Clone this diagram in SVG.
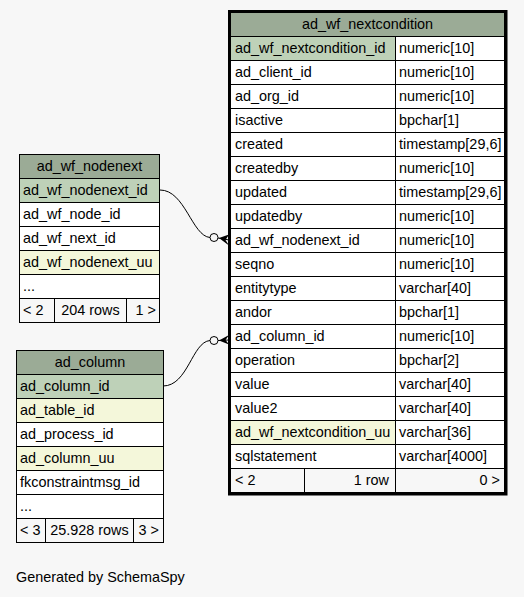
<svg xmlns="http://www.w3.org/2000/svg" width="524" height="597" viewBox="0 0 524 597">
<style>
text{font-family:"Liberation Sans",Arial,sans-serif;font-size:14.4px;fill:#000}
.c{stroke:#000;stroke-width:1}
.h{fill:#9bab96}
.pk{fill:#bed1b8}
.ix{fill:#f4f7da}
.w{fill:#ffffff}
.f{fill:#f7f7f7}
.m{text-anchor:middle}
.e{text-anchor:end}
.edge{fill:none;stroke:#000;stroke-width:1}
</style>
<rect width="524" height="597" fill="#f7f7f7"/>

<g id="connectors">
<path class="edge" d="M160,190 C185,190 192,236 210,237.5"/>
<circle class="edge" cx="214" cy="237.5" r="4"/>
<line class="edge" x1="218" y1="238" x2="229" y2="240"/>
<polygon points="219,238 229,234.5 225.5,240 229,245.5" fill="#000"/>
<path class="edge" d="M163,386 C188,386 192,342 210,340.5"/>
<circle class="edge" cx="214" cy="340.5" r="4"/>
<line class="edge" x1="218" y1="340.5" x2="229" y2="340"/>
<polygon points="219,340.5 229,335 225.5,340 229,344.5" fill="#000"/>
</g>

<g id="ad_wf_nodenext">
<rect class="c h" x="19.5" y="154.5" width="140" height="24"/>
<text class="m" x="89.5" y="171">ad_wf_nodenext</text>
<rect class="c pk" x="19.5" y="178.5" width="140" height="24"/>
<text x="23" y="195">ad_wf_nodenext_id</text>
<rect class="c w" x="19.5" y="202.5" width="140" height="24"/>
<text x="23" y="219">ad_wf_node_id</text>
<rect class="c w" x="19.5" y="226.5" width="140" height="24"/>
<text x="23" y="243">ad_wf_next_id</text>
<rect class="c ix" x="19.5" y="250.5" width="140" height="24"/>
<text x="23" y="267">ad_wf_nodenext_uu</text>
<rect class="c w" x="19.5" y="274.5" width="140" height="24"/>
<text x="23" y="291">...</text>
<rect class="c f" x="19.5" y="298.5" width="35" height="24"/>
<rect class="c f" x="54.5" y="298.5" width="72" height="24"/>
<rect class="c f" x="126.5" y="298.5" width="33" height="24"/>
<text x="23" y="315">&lt; 2</text>
<text class="m" x="90.5" y="315">204 rows</text>
<text class="e" x="156" y="315">1 &gt;</text>
</g>

<g id="ad_column">
<rect class="c h" x="16.5" y="350.5" width="147" height="24"/>
<text class="m" x="90" y="367">ad_column</text>
<rect class="c pk" x="16.5" y="374.5" width="147" height="24"/>
<text x="20" y="391">ad_column_id</text>
<rect class="c ix" x="16.5" y="398.5" width="147" height="24"/>
<text x="20" y="415">ad_table_id</text>
<rect class="c w" x="16.5" y="422.5" width="147" height="24"/>
<text x="20" y="439">ad_process_id</text>
<rect class="c ix" x="16.5" y="446.5" width="147" height="24"/>
<text x="20" y="463">ad_column_uu</text>
<rect class="c w" x="16.5" y="470.5" width="147" height="24"/>
<text x="20" y="487">fkconstraintmsg_id</text>
<rect class="c w" x="16.5" y="494.5" width="147" height="24"/>
<text x="20" y="511">...</text>
<rect class="c f" x="16.5" y="518.5" width="29" height="24"/>
<rect class="c f" x="45.5" y="518.5" width="88" height="24"/>
<rect class="c f" x="133.5" y="518.5" width="30" height="24"/>
<text x="20" y="535">&lt; 3</text>
<text class="m" x="89.5" y="535">25.928 rows</text>
<text class="e" x="159" y="535">3 &gt;</text>
</g>

<g id="ad_wf_nextcondition">
<rect class="c h" x="230.5" y="12.5" width="274" height="24"/>
<text class="m" x="367.5" y="29">ad_wf_nextcondition</text>

<rect class="c pk" x="230.5" y="36.5" width="165" height="24"/>
<rect class="c w" x="395.5" y="36.5" width="109" height="24"/>
<text x="235" y="53">ad_wf_nextcondition_id</text><text x="399" y="53">numeric[10]</text>

<rect class="c w" x="230.5" y="60.5" width="165" height="24"/>
<rect class="c w" x="395.5" y="60.5" width="109" height="24"/>
<text x="235" y="77">ad_client_id</text><text x="399" y="77">numeric[10]</text>

<rect class="c w" x="230.5" y="84.5" width="165" height="24"/>
<rect class="c w" x="395.5" y="84.5" width="109" height="24"/>
<text x="235" y="101">ad_org_id</text><text x="399" y="101">numeric[10]</text>

<rect class="c w" x="230.5" y="108.5" width="165" height="24"/>
<rect class="c w" x="395.5" y="108.5" width="109" height="24"/>
<text x="235" y="125">isactive</text><text x="399" y="125">bpchar[1]</text>

<rect class="c w" x="230.5" y="132.5" width="165" height="24"/>
<rect class="c w" x="395.5" y="132.5" width="109" height="24"/>
<text x="235" y="149">created</text><text x="399" y="149">timestamp[29,6]</text>

<rect class="c w" x="230.5" y="156.5" width="165" height="24"/>
<rect class="c w" x="395.5" y="156.5" width="109" height="24"/>
<text x="235" y="173">createdby</text><text x="399" y="173">numeric[10]</text>

<rect class="c w" x="230.5" y="180.5" width="165" height="24"/>
<rect class="c w" x="395.5" y="180.5" width="109" height="24"/>
<text x="235" y="197">updated</text><text x="399" y="197">timestamp[29,6]</text>

<rect class="c w" x="230.5" y="204.5" width="165" height="24"/>
<rect class="c w" x="395.5" y="204.5" width="109" height="24"/>
<text x="235" y="221">updatedby</text><text x="399" y="221">numeric[10]</text>

<rect class="c w" x="230.5" y="228.5" width="165" height="24"/>
<rect class="c w" x="395.5" y="228.5" width="109" height="24"/>
<text x="235" y="245">ad_wf_nodenext_id</text><text x="399" y="245">numeric[10]</text>

<rect class="c w" x="230.5" y="252.5" width="165" height="24"/>
<rect class="c w" x="395.5" y="252.5" width="109" height="24"/>
<text x="235" y="269">seqno</text><text x="399" y="269">numeric[10]</text>

<rect class="c w" x="230.5" y="276.5" width="165" height="24"/>
<rect class="c w" x="395.5" y="276.5" width="109" height="24"/>
<text x="235" y="293">entitytype</text><text x="399" y="293">varchar[40]</text>

<rect class="c w" x="230.5" y="300.5" width="165" height="24"/>
<rect class="c w" x="395.5" y="300.5" width="109" height="24"/>
<text x="235" y="317">andor</text><text x="399" y="317">bpchar[1]</text>

<rect class="c w" x="230.5" y="324.5" width="165" height="24"/>
<rect class="c w" x="395.5" y="324.5" width="109" height="24"/>
<text x="235" y="341">ad_column_id</text><text x="399" y="341">numeric[10]</text>

<rect class="c w" x="230.5" y="348.5" width="165" height="24"/>
<rect class="c w" x="395.5" y="348.5" width="109" height="24"/>
<text x="235" y="365">operation</text><text x="399" y="365">bpchar[2]</text>

<rect class="c w" x="230.5" y="372.5" width="165" height="24"/>
<rect class="c w" x="395.5" y="372.5" width="109" height="24"/>
<text x="235" y="389">value</text><text x="399" y="389">varchar[40]</text>

<rect class="c w" x="230.5" y="396.5" width="165" height="24"/>
<rect class="c w" x="395.5" y="396.5" width="109" height="24"/>
<text x="235" y="413">value2</text><text x="399" y="413">varchar[40]</text>

<rect class="c ix" x="230.5" y="420.5" width="165" height="24"/>
<rect class="c w" x="395.5" y="420.5" width="109" height="24"/>
<text x="235" y="437">ad_wf_nextcondition_uu</text><text x="399" y="437">varchar[36]</text>

<rect class="c w" x="230.5" y="444.5" width="165" height="24"/>
<rect class="c w" x="395.5" y="444.5" width="109" height="24"/>
<text x="235" y="461">sqlstatement</text><text x="399" y="461">varchar[4000]</text>

<rect class="c f" x="230.5" y="468.5" width="74" height="24"/>
<rect class="c f" x="304.5" y="468.5" width="91" height="24"/>
<rect class="c f" x="395.5" y="468.5" width="109" height="24"/>
<text x="235" y="485">&lt; 2</text>
<text class="e" x="389" y="485">1 row</text>
<text class="e" x="500" y="485">0 &gt;</text>

<rect x="229.5" y="11.5" width="276.5" height="482.5" fill="none" stroke="#000" stroke-width="3"/>
</g>

<text x="16" y="582">Generated by SchemaSpy</text>
</svg>
